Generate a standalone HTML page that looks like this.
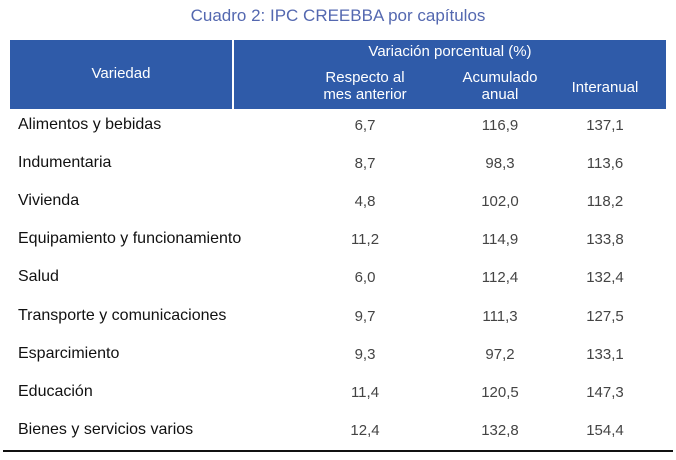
<!DOCTYPE html><html><head><meta charset="utf-8"><style>
body{margin:0;width:676px;height:460px;background:#fff;font-family:"Liberation Sans",sans-serif;position:relative;overflow:hidden}
.a{position:absolute;white-space:nowrap}
.t{left:0;width:676px;text-align:center;top:6px;font-size:17px;color:#5468b0}
.hd{position:absolute;top:40px;height:69px;background:#2f5ba9}
.w{color:#fff;font-size:15px;text-align:center;line-height:17px}
.l{left:18px;font-size:16px;color:#111}
.n{font-size:15px;color:#444;text-align:center;width:80px}
</style></head><body>
<div class="a t">Cuadro 2: IPC CREEBBA por capítulos</div>
<div class="hd" style="left:10px;width:222px"></div>
<div class="hd" style="left:234px;width:432px"></div>
<div class="a w" style="left:10px;width:222px;top:65px">Variedad</div>
<div class="a w" style="left:234px;width:432px;top:43px">Variación porcentual (%)</div>
<div class="a w" style="left:305px;width:120px;top:69px">Respecto al<br>mes anterior</div>
<div class="a w" style="left:440px;width:120px;top:69px">Acumulado<br>anual</div>
<div class="a w" style="left:545px;width:120px;top:79px">Interanual</div>
<div id="rows"></div>
<div class="a" style="left:3px;width:670px;top:450px;height:2px;background:#111"></div>
<script>
var d=[["Alimentos y bebidas","6,7","116,9","137,1"],["Indumentaria","8,7","98,3","113,6"],["Vivienda","4,8","102,0","118,2"],["Equipamiento y funcionamiento","11,2","114,9","133,8"],["Salud","6,0","112,4","132,4"],["Transporte y comunicaciones","9,7","111,3","127,5"],["Esparcimiento","9,3","97,2","133,1"],["Educación","11,4","120,5","147,3"],["Bienes y servicios varios","12,4","132,8","154,4"]];
var h="";d.forEach(function(r,i){var y=117+i*38.1;
h+='<div class="a l" style="top:'+(y-1)+'px">'+r[0]+'</div>';
[365,500,605].forEach(function(x,j){h+='<div class="a n" style="left:'+(x-40)+'px;top:'+y+'px">'+r[j+1]+'</div>';});});
document.getElementById("rows").innerHTML=h;
</script>
</body></html>
